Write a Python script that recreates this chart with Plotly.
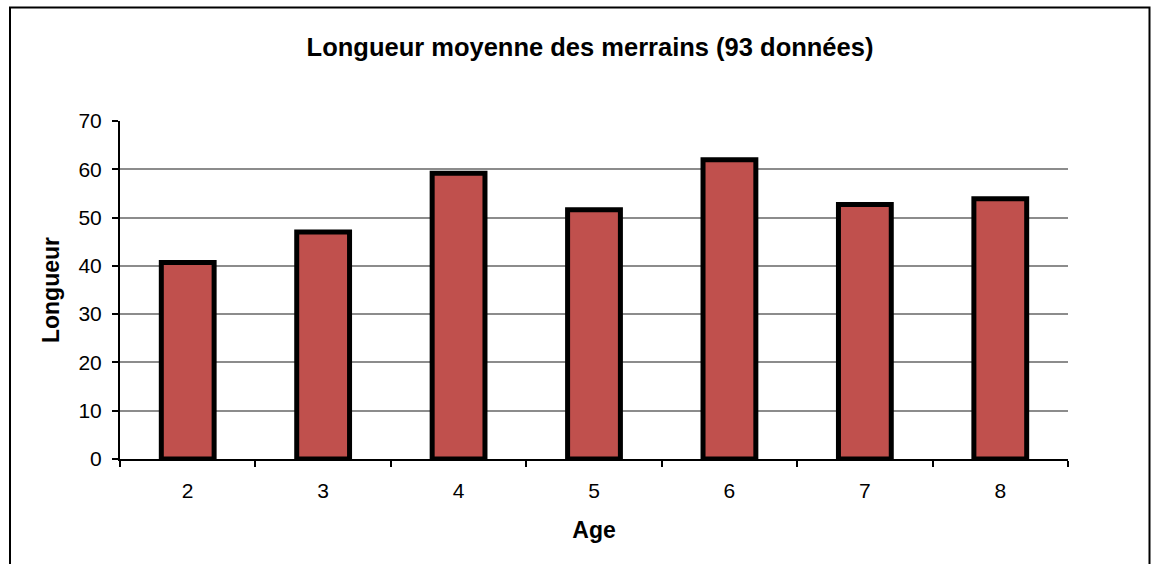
import plotly.graph_objects as go

ages = ["2", "3", "4", "5", "6", "7", "8"]
longueur = [40.7, 47.0, 59.2, 51.6, 62.0, 52.7, 53.9]
y_ticks = [0, 10, 20, 30, 40, 50, 60, 70]

FONT = "Liberation Sans, Arial, sans-serif"

fig = go.Figure()
fig.add_trace(go.Bar(
    x=ages, y=longueur,
    marker=dict(color="#C0504D", line=dict(color="black", width=5)),
    hoverinfo="x+y",
))

W, H = 1151, 564
L, T = 120, 121
pw, ph = 948, 338
R = W - L - pw
B = H - T - ph

def px_x(p):
    return (p - L) / pw

def px_y(p):
    return (T + ph - p) / ph

fig.update_layout(
    width=W, height=H,
    margin=dict(l=L, r=R, t=T, b=B),
    paper_bgcolor="white", plot_bgcolor="white",
    bargap=0.61,
    showlegend=False,
    font=dict(family=FONT, color="black", size=21),
    title=dict(
        text="<b>Longueur moyenne des merrains (93 données)</b>",
        x=590 / W, xanchor="center", y=1 - 47 / H, yanchor="middle",
        font=dict(family=FONT, size=25.5, color="black"),
    ),
    xaxis=dict(
        type="category",
        tickson="boundaries",
        ticks="outside", ticklen=6, tickwidth=2, tickcolor="black",
        showline=True, linecolor="black", linewidth=2,
        showgrid=False,
        ticklabelstandoff=12,
        tickfont=dict(family=FONT, size=21),
        title=dict(text="<b>Age</b>", font=dict(family=FONT, size=23), standoff=21),
    ),
    yaxis=dict(
        range=[0, 70],
        tickvals=y_ticks,
        ticks="outside", ticklen=6, tickwidth=2, tickcolor="black",
        showline=True, linecolor="black", linewidth=2,
        showgrid=True, gridcolor="#8c8c8c", gridwidth=2,
        zeroline=False,
        ticklabelstandoff=6,
        tickfont=dict(family=FONT, size=21),
        title=dict(text="<b>Longueur</b>", font=dict(family=FONT, size=23), standoff=12),
    ),
    shapes=[dict(
        type="rect", xref="paper", yref="paper",
        x0=px_x(10), x1=px_x(1149.5), y0=px_y(600), y1=px_y(7.5),
        line=dict(color="black", width=2), fillcolor="rgba(0,0,0,0)",
        layer="above",
    )],
)

fig.write_html(
    "out.html",
    config={"displayModeBar": False},
    post_script="document.body.style.margin='0';document.body.style.overflow='hidden';",
)
